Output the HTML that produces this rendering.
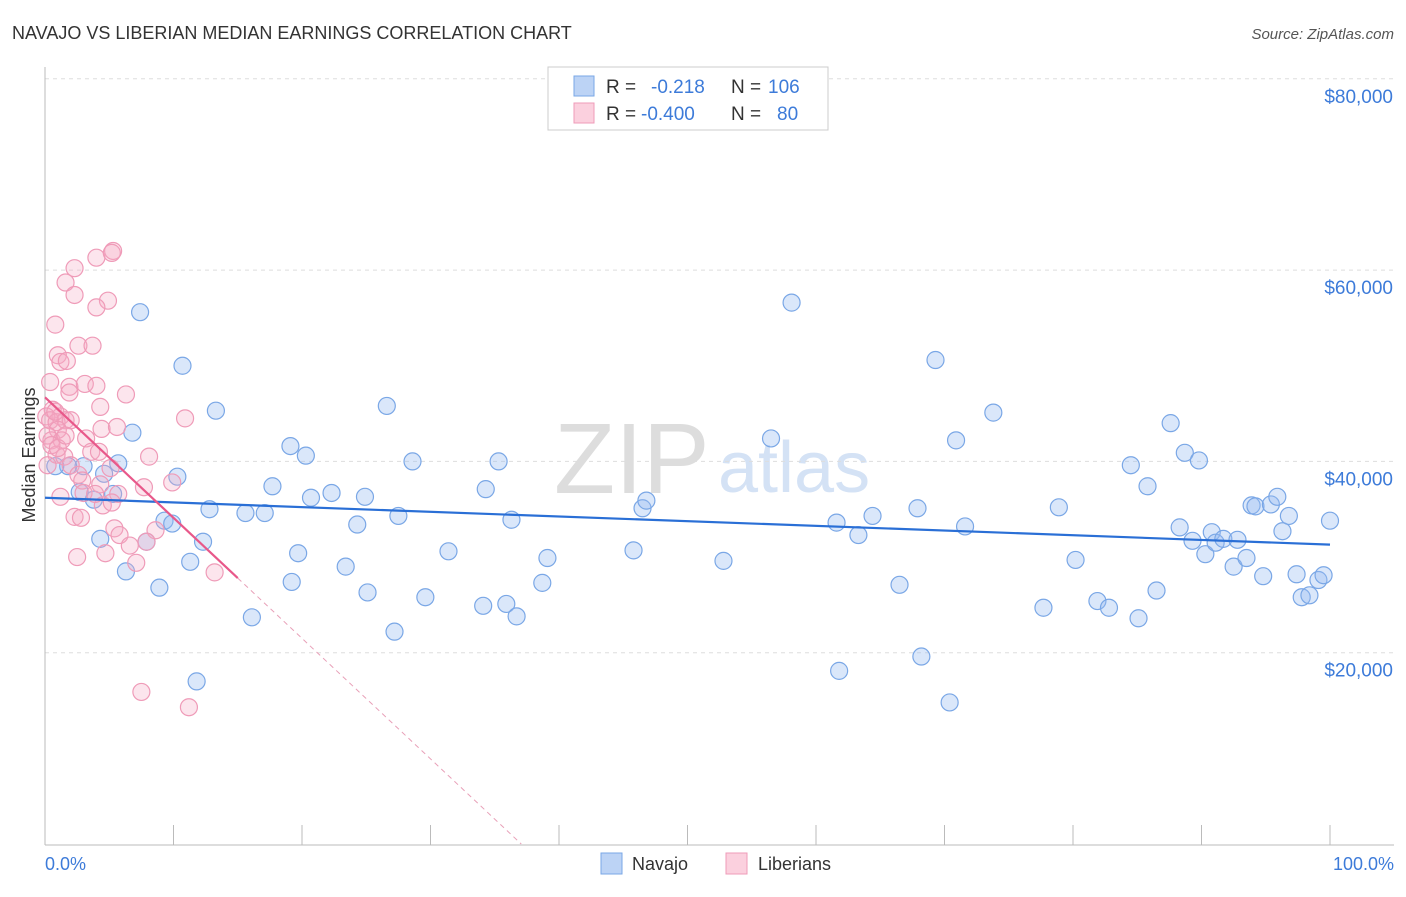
<!DOCTYPE html>
<html><head><meta charset="utf-8"><style>
body{margin:0;background:#fff;font-family:"Liberation Sans",sans-serif;}
svg text{font-family:"Liberation Sans",sans-serif;}
</style></head><body>
<svg id="chart" width="1406" height="892" xmlns="http://www.w3.org/2000/svg">
<text x="12" y="39" font-size="18" fill="#333">NAVAJO VS LIBERIAN MEDIAN EARNINGS CORRELATION CHART</text>
<text x="1394" y="39" font-size="15" fill="#555" font-style="italic" text-anchor="end">Source: ZipAtlas.com</text>
<g>
<text x="554" y="493" font-size="100" fill="#ddd" font-family="Liberation Serif,serif">ZIP</text>
<text x="718" y="492" font-size="72" fill="#d4e2f5">atlas</text>
</g>
<g id="grid"></g>
<g id="axes"></g>
<g id="pts"></g>
<g id="trends"></g>
<text x="35" y="455" font-size="18" fill="#333" text-anchor="middle" transform="rotate(-90 35 455)">Median Earnings</text>
<text x="45" y="870" font-size="18" fill="#3d7bd9">0.0%</text>
<text x="1394" y="870" font-size="18" fill="#3d7bd9" text-anchor="end">100.0%</text>
<g>
<rect x="548" y="67" width="280" height="63" fill="#fff" stroke="#ccc"/>
<rect x="574" y="76" width="20" height="20" fill="#bcd3f5" stroke="#7aa7e6"/>
<rect x="574" y="103" width="20" height="20" fill="#fbd0de" stroke="#ef9bb8"/>
<text x="606" y="93" font-size="19" fill="#333">R = <tspan fill="#3d7bd9" x="651">-0.218</tspan><tspan x="731" fill="#333">N = </tspan><tspan fill="#3d7bd9" x="768">106</tspan></text>
<text x="606" y="120" font-size="19" fill="#333">R = <tspan fill="#3d7bd9" x="641">-0.400</tspan><tspan x="731" fill="#333">N = </tspan><tspan fill="#3d7bd9" x="777">80</tspan></text>
</g>
<g>
<rect x="601" y="853" width="21" height="21" fill="#bcd3f5" stroke="#7aa7e6"/>
<text x="632" y="870" font-size="18" fill="#333">Navajo</text>
<rect x="726" y="853" width="21" height="21" fill="#fbd0de" stroke="#ef9bb8"/>
<text x="758" y="870" font-size="18" fill="#333">Liberians</text>
</g>
</svg>
<script>
const yTicks=[20000,40000,60000,80000];
const yTickLabels=["$20,000","$40,000","$60,000","$80,000"];
const navajoX=[7.4,10.7,13.3,6.8,5.7,4.6,3.0,1.8,0.8,2.7,3.8,5.3,10.3,4.3,6.3,8.9,9.3,9.9,7.9,11.3,12.3,12.8,11.8,15.6,16.1,17.1,17.7,19.1,20.3,19.7,19.2,20.7,22.3,23.4,24.3,24.9,25.1,26.6,27.5,27.2,28.6,29.6,31.4,34.3,34.1,35.3,35.9,36.3,36.7,38.7,39.1,45.8,46.5,46.8,52.8,56.5,58.1,61.6,61.8,63.3,64.4,66.5,67.9,68.2,69.3,70.4,70.9,71.6,73.8,77.7,78.9,80.2,81.9,82.8,85.1,84.5,85.8,86.5,87.6,88.3,88.7,89.3,89.8,90.3,90.8,91.1,91.7,92.5,92.8,93.5,93.9,94.2,94.8,95.4,95.9,96.3,96.8,97.4,97.8,98.4,99.1,99.5,100.0];
const navajoY=[55.6,50.0,45.3,43.0,39.8,38.7,39.5,39.5,39.5,36.8,36.0,36.6,38.4,31.9,28.5,26.8,33.8,33.5,31.6,29.5,31.6,35.0,17.0,34.6,23.7,34.6,37.4,41.6,40.6,30.4,27.4,36.2,36.7,29.0,33.4,36.3,26.3,45.8,34.3,22.2,40.0,25.8,30.6,37.1,24.9,40.0,25.1,33.9,23.8,27.3,29.9,30.7,35.1,35.9,29.6,42.4,56.6,33.6,18.1,32.3,34.3,27.1,35.1,19.6,50.6,14.8,42.2,33.2,45.1,24.7,35.2,29.7,25.4,24.7,23.6,39.6,37.4,26.5,44.0,33.1,40.9,31.7,40.1,30.3,32.6,31.5,31.9,29.0,31.8,29.9,35.4,35.3,28.0,35.5,36.3,32.7,34.3,28.2,25.8,26.0,27.6,28.1,33.8];
const liberX=[0.8,2.3,1.6,2.3,4.0,5.3,5.2,4.9,4.0,1.0,1.2,1.7,2.6,3.7,0.4,1.9,3.1,4.0,6.3,1.9,4.3,0.6,1.2,0.1,0.4,0.9,1.6,2.0,1.0,3.2,0.5,1.3,4.4,5.6,10.9,3.6,4.2,8.1,0.9,1.5,2.0,2.6,2.9,5.1,4.3,9.9,7.7,5.7,1.2,3.0,4.5,2.3,2.8,5.4,8.6,7.9,5.8,4.7,2.5,7.1,13.2,7.5,11.2,0.2,0.5,0.8,1.0,1.6,0.2,5.2,3.9,6.6];
const liberY=[54.3,60.2,58.7,57.4,61.3,62.0,61.8,56.8,56.1,51.1,50.4,50.5,52.1,52.1,48.3,47.8,48.1,47.9,47.0,47.2,45.7,45.4,44.7,44.7,44.3,44.1,44.3,44.3,43.3,42.4,42.2,42.2,43.4,43.6,44.5,41.0,41.0,40.5,40.7,40.5,39.6,38.6,38.0,39.3,37.6,37.8,37.3,36.6,36.3,36.7,35.4,34.2,34.1,33.0,32.8,31.6,32.3,30.4,30.0,29.4,28.4,15.9,14.3,42.7,41.7,45.2,41.4,42.7,39.6,35.7,36.6,31.2];
const navajoTrend=[36.2,-0.049];
const liberTrend=[46.7,-1.26];
const NS="http://www.w3.org/2000/svg";
const X=p=>45+p*12.85;
const Y=v=>844-v*9.565;
function mk(t,a,parent){const e=document.createElementNS(NS,t);for(const k in a)e.setAttribute(k,a[k]);parent.appendChild(e);return e;}
const grid=document.getElementById('grid'),axes=document.getElementById('axes'),pts=document.getElementById('pts'),tr=document.getElementById('trends');
yTicks.forEach((t,i)=>{
 const l=mk('line',{x1:45,x2:1394,y1:Y(t/1000),y2:Y(t/1000),stroke:'#ddd','stroke-dasharray':'4,4'},grid);
 
 
 const tx=mk('text',{x:1393,y:Y(t/1000)+24,'font-size':19,fill:'#3d7bd9','text-anchor':'end'},grid);
 tx.textContent=yTickLabels[i];
 
 
});
const ya=mk('line',{x1:45,x2:45,y1:67,y2:845,stroke:'#bbb'},axes);


const xa=mk('line',{x1:45,x2:1394,y1:845,y2:845,stroke:'#bbb'},axes);


for(let i=0;i<=10;i++){
 const t=mk('line',{x1:X(i*10),x2:X(i*10),y1:825,y2:845,stroke:'#bbb'},axes);
 
 
}
navajoX.forEach((x,i)=>{
 const c=mk('circle',{cx:X(x),cy:Y(navajoY[i]),r:8.5,fill:'rgba(150,185,240,0.35)',stroke:'#7aa7e6','stroke-width':1.2},pts);
 
 
});
liberX.forEach((x,i)=>{
 const c=mk('circle',{cx:X(x),cy:Y(liberY[i]),r:8.5,fill:'rgba(245,170,195,0.3)',stroke:'#ef9bb8','stroke-width':1.2},pts);
 
 
});
const bl=mk('line',{x1:X(0),y1:Y(navajoTrend[0]),x2:X(100),y2:Y(navajoTrend[0]+navajoTrend[1]*100),stroke:'#2a6fd6','stroke-width':2.2},tr);


const pe=15, pz=-liberTrend[0]/liberTrend[1];
const pl=mk('line',{x1:X(0),y1:Y(liberTrend[0]),x2:X(pe),y2:Y(liberTrend[0]+liberTrend[1]*pe),stroke:'#e8588a','stroke-width':2.2},tr);


const pd=mk('line',{x1:X(pe),y1:Y(liberTrend[0]+liberTrend[1]*pe),x2:X(pz),y2:Y(0),stroke:'#e8a0b8','stroke-width':1,'stroke-dasharray':'5,4'},tr);


</script>
</body></html>
